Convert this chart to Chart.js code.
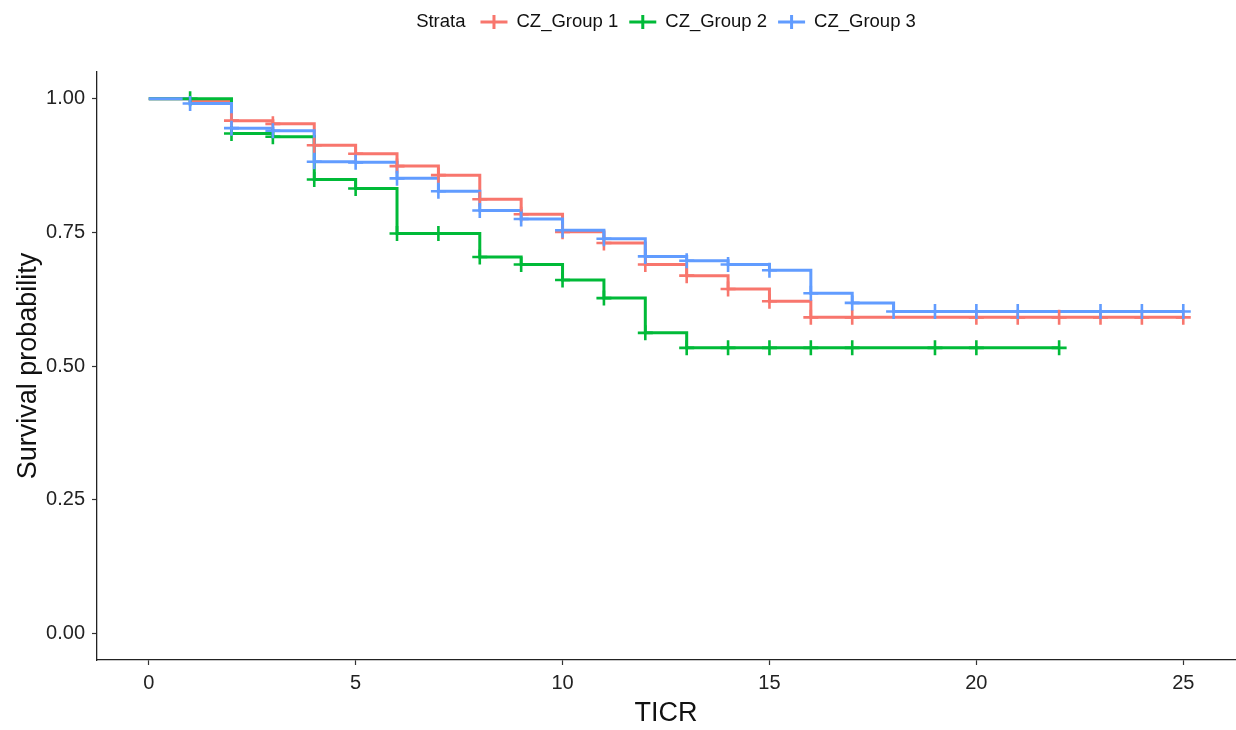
<!DOCTYPE html>
<html>
<head>
<meta charset="utf-8">
<script src="https://cdn.jsdelivr.net/npm/chart.js@4.4.1/dist/chart.umd.min.js"></script>
<style>
  html, body { margin: 0; padding: 0; background: #fff; }
  #wrap { width: 1236px; height: 730px; }
</style>
</head>
<body>
<div id="wrap"><canvas id="kmChart" width="1236" height="730"></canvas></div>
<script>
// time points (TICR) and survival estimates
const times = [0, 1, 2, 3, 4, 5, 6, 7, 8, 9, 10, 11, 12, 13, 14, 15, 16, 17, 18, 19, 20, 21, 22, 23, 24, 25];

const group1 = [1.000, 0.996, 0.959, 0.953, 0.913, 0.897, 0.874, 0.857, 0.812, 0.784, 0.751, 0.730, 0.690,
                0.669, 0.644, 0.621, 0.591, 0.591, 0.591, 0.591, 0.591, 0.591, 0.591, 0.591, 0.591, 0.591];
const group2 = [1.000, 1.000, 0.935, 0.929, 0.849, 0.832, 0.748, 0.748, 0.704, 0.690, 0.661, 0.627, 0.562,
                0.534, 0.534, 0.534, 0.534, 0.534, 0.534, 0.534, 0.534, 0.534, 0.534];
const group3 = [1.000, 0.991, 0.945, 0.940, 0.882, 0.881, 0.851, 0.827, 0.791, 0.775, 0.754, 0.738, 0.705,
                0.697, 0.690, 0.679, 0.636, 0.618, 0.602, 0.602, 0.602, 0.602, 0.602, 0.602, 0.602, 0.602];

// censoring times per group
const censor1 = [2, 3, 4, 5, 6, 7, 8, 9, 10, 11, 12, 13, 14, 15, 16, 17, 20, 21, 22, 23, 24, 25];
const censor2 = [1, 2, 3, 4, 5, 6, 7, 8, 9, 10, 11, 12, 13, 14, 15, 16, 17, 19, 20, 22];
const censor3 = [1, 2, 3, 4, 5, 6, 7, 8, 9, 10, 11, 12, 13, 14, 15, 16, 17, 18, 19, 20, 21, 23, 24, 25];

const groupNames = ["CZ_Group 1", "CZ_Group 2", "CZ_Group 3"];
const colors = ["#F8766D", "#00BA38", "#619CFF"];

const xTicks = [0, 5, 10, 15, 20, 25];
const yTicks = [0, 0.25, 0.5, 0.75, 1.0];

const FONT = "'Liberation Sans', Arial, sans-serif";

function stepData(surv) {
    return surv.map((s, i) => ({ x: times[i], y: s }));
}
function censorData(surv, cens) {
    return cens.map(t => ({ x: t, y: surv[times.indexOf(t)] }));
}

const series = [group1, group2, group3];
const censors = [censor1, censor2, censor3];

let datasets = [];
series.forEach((s, i) => {
    datasets.push({
        type: "scatter",
        label: groupNames[i] + " censor",
        data: censorData(s, censors[i]),
        pointStyle: "cross",
        pointRadius: 7.5,
        borderColor: colors[i],
        backgroundColor: colors[i],
        pointBorderWidth: 2.6,
        order: 2 - i
    });
});
series.forEach((s, i) => {
    datasets.push({
        type: "line",
        label: groupNames[i],
        data: stepData(s),
        stepped: true,
        borderColor: colors[i],
        borderWidth: 3,
        pointRadius: 0,
        fill: false,
        order: 5 - i
    });
});

// legend drawn across the top: "Strata" + line/cross keys
const stripLegend = {
    id: "stripLegend",
    afterDraw(chart) {
        const ctx = chart.ctx;
        ctx.save();
        ctx.font = "18.5px " + FONT;
        ctx.textBaseline = "middle";
        ctx.fillStyle = "#111";
        const y = 22;
        const keyW = 27, gapAfterTitle = 15, gapKeyText = 9, gapItems = 11;
        let total = ctx.measureText("Strata").width + gapAfterTitle;
        groupNames.forEach((n, i) => {
            total += keyW + gapKeyText + ctx.measureText(n).width + (i < groupNames.length - 1 ? gapItems : 0);
        });
        const ca = chart.chartArea;
        let x = (ca.left + ca.right) / 2 - total / 2;
        ctx.fillText("Strata", x, y);
        x += ctx.measureText("Strata").width + gapAfterTitle;
        groupNames.forEach((n, i) => {
            ctx.strokeStyle = colors[i];
            ctx.lineWidth = 3;
            ctx.beginPath();
            ctx.moveTo(x, y);
            ctx.lineTo(x + keyW, y);
            ctx.moveTo(x + keyW / 2, y - 7);
            ctx.lineTo(x + keyW / 2, y + 7);
            ctx.stroke();
            x += keyW + gapKeyText;
            ctx.fillStyle = "#111";
            ctx.fillText(n, x, y);
            x += ctx.measureText(n).width + gapItems;
        });
        ctx.restore();
    }
};

new Chart(document.getElementById("kmChart").getContext("2d"), {
    data: { datasets: datasets },
    options: {
        responsive: false,
        animation: false,
        layout: { autoPadding: false, padding: { top: 72, right: 1, left: 0, bottom: 0 } },
        plugins: {
            legend: { display: false },
            tooltip: { enabled: false }
        },
        scales: {
            x: {
                type: "linear",
                min: -1.25,
                max: 26.25,
                afterBuildTicks: s => { s.ticks = xTicks.map(v => ({ value: v })); },
                afterFit: s => { s.height = 70; s.paddingLeft = 0; s.paddingRight = 0; },
                grid: { drawOnChartArea: false, tickLength: 5, tickColor: "#333", tickWidth: 1.2 },
                border: { display: true, color: "#222", width: 1.3 },
                ticks: { color: "#222", font: { size: 20, family: FONT }, padding: 6, maxRotation: 0 },
                title: { display: true, text: "TICR", color: "#111", font: { size: 27, family: FONT }, padding: { top: 0, bottom: 0 } }
            },
            y: {
                type: "linear",
                min: -0.05,
                max: 1.05,
                afterBuildTicks: s => { s.ticks = yTicks.map(v => ({ value: v })); },
                afterFit: s => { s.width = 97; s.paddingTop = 0; s.paddingBottom = 0; },
                grid: { drawOnChartArea: false, tickLength: 5, tickColor: "#333", tickWidth: 1.2 },
                border: { display: true, color: "#222", width: 1.3 },
                ticks: { color: "#222", font: { size: 20, family: FONT }, padding: 7, callback: v => v.toFixed(2) },
                title: { display: true, text: "Survival probability", color: "#111", font: { size: 27, family: FONT }, padding: { top: 12, bottom: 0 } }
            }
        }
    },
    plugins: [stripLegend]
});
</script>
</body>
</html>
